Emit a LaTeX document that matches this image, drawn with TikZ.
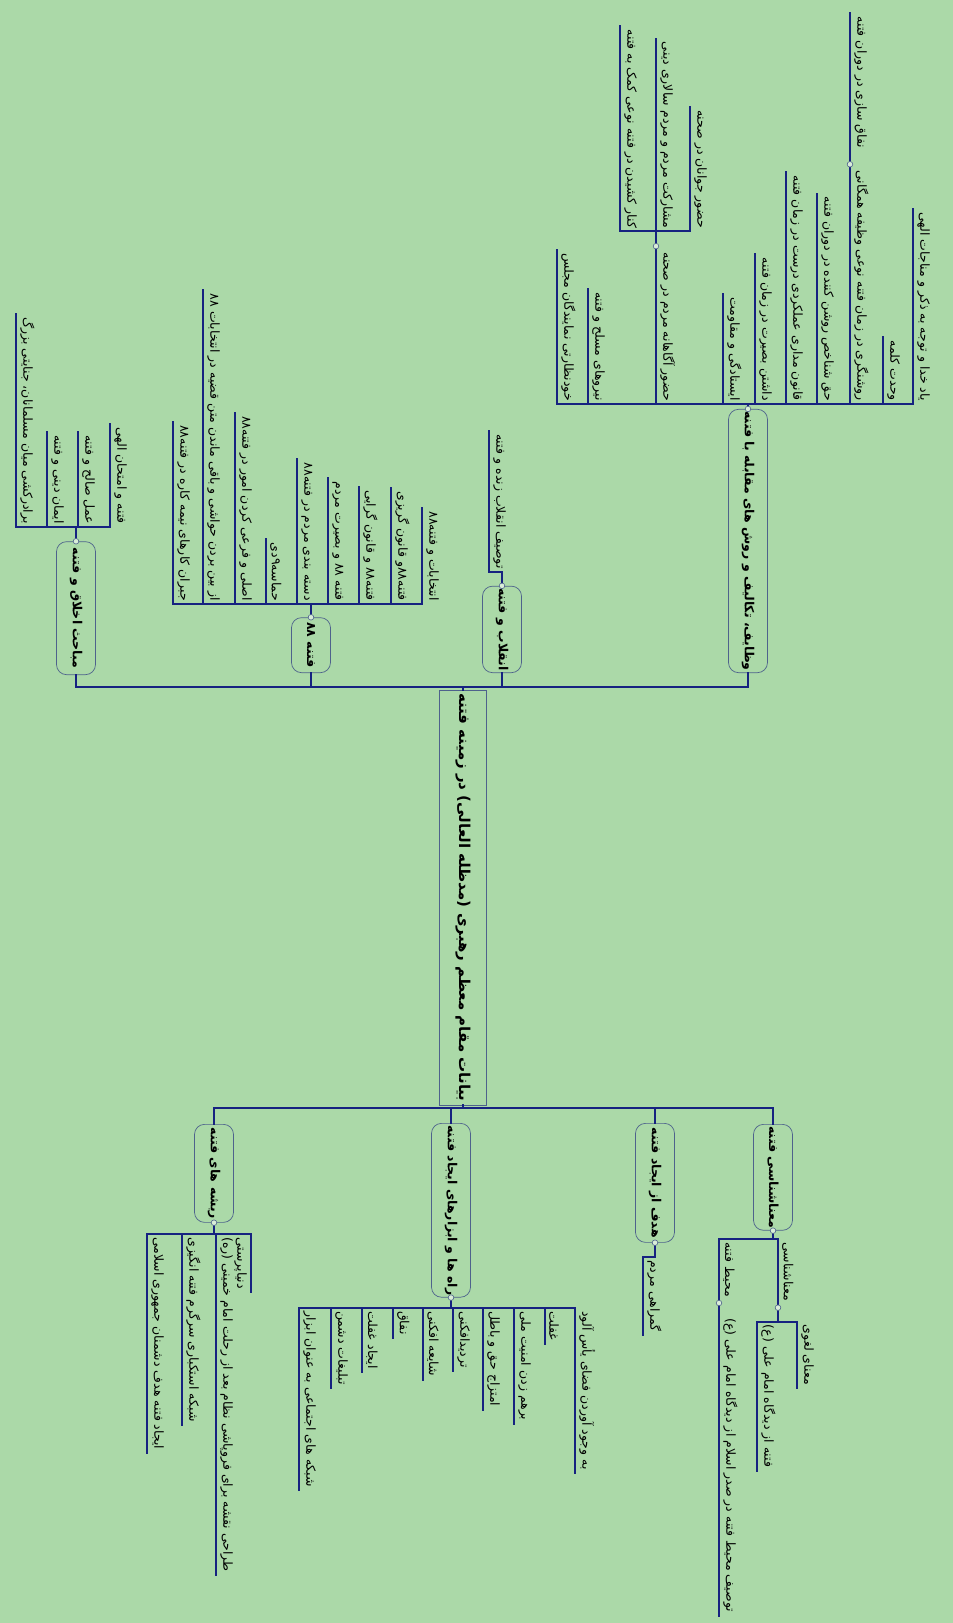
\documentclass[tikz,border=0pt]{standalone}
\usepackage{fontspec}
\usepackage{xcolor}
\usepackage{tikz}
\usetikzlibrary{calc}
\newfontfamily\farsi[Script=Arabic]{DejaVu Sans}
\TeXXeTstate=1
\definecolor{bgreen}{RGB}{171,217,168}
\definecolor{navy}{RGB}{22,34,128}
\definecolor{boxline}{RGB}{78,98,140}

\begin{document}
\begin{tikzpicture}[x=1pt,y=-1pt, conn/.style={draw=navy,line width=2.3pt,line cap=rect}, dot/.style={draw=boxline,fill=white!55!bgreen,line width=0.6pt}, rtl/.style={rotate=-90,execute at begin node=\beginR,execute at end node=\endR}, leaf/.style={rtl,font=\farsi\fontsize{12.5}{15}\selectfont,inner xsep=3pt,inner ysep=4pt}, up/.style={leaf,anchor=south east}, dn/.style={leaf,anchor=south west}, dnl/.style={leaf,anchor=north west}, topic/.style={rtl,draw=boxline,line width=0.7pt,rounded corners=10pt,fill=bgreen,font=\farsi\bfseries\fontsize{12.5}{15}\selectfont,minimum height=39pt,inner sep=2pt}, main/.style={rtl,draw=boxline,line width=0.7pt,font=\farsi\bfseries\fontsize{15}{18}\selectfont,minimum height=47pt,minimum width=391pt}]
\useasboundingbox (0,0) rectangle (953,1623);
\fill[bgreen] (0,0) rectangle (953,1623);
\node[main] (ctr) at (463,897.5) {بیانات مقام معظم رهبری (مدظله العالی) در زمینه فتنه};
\node[topic,anchor=east,minimum width=133pt] (akhlagh) at (76,675) {مباحث اخلاق و فتنه};
\node[topic,anchor=east,minimum width=55pt] (f88) at (311,673) {فتنه ۸۸};
\node[topic,anchor=east,minimum width=86pt] (enghelab) at (502,673) {انقلاب و فتنه};
\node[topic,anchor=east,minimum width=254pt] (vazayef) at (748,673) {وظایف، تکالیف و روش های مقابله با فتنه};
\node[topic,anchor=west,minimum width=100pt] (maana) at (773,1124) {معناشناسی فتنه};
\node[topic,anchor=west,minimum width=119pt] (hadaf) at (655,1123) {هدف از ایجاد فتنه};
\node[topic,anchor=west,minimum width=172pt] (raha) at (451,1123) {راه ها و ابزارهای ایجاد فتنه};
\node[topic,anchor=west,minimum width=98pt] (risheh) at (214,1124) {ریشه های فتنه};
\coordinate (tup) at (463,687);
\coordinate (tdn) at (463,1108);
\draw[conn] (ctr.west) -- (tup);
\draw[conn] (akhlagh.east) |- (tup) -| (vazayef.east);
\foreach \n in {f88,enghelab} \draw[conn] (\n.east) -- (\n.east |- tup);
\draw[conn] (ctr.east) -- (tdn);
\draw[conn] (risheh.west) |- (tdn) -| (maana.west);
\foreach \n in {hadaf,raha} \draw[conn] (\n.west) -- (\n.west |- tdn);
% akhlagh
\foreach \x/\t [count=\i] in {16/{برادرکشی میان مسلمانان، جنایتی بزرگ},47/{ایمان دینی و فتنه},78/{عمل صالح و فتنه},110/{فتنه و امتحان الهی}}
  {\node[up] (a\i) at (\x,527) {\t}; \draw[conn] (a\i.south east) -- (a\i.south west);}
\draw[conn] (a1.south east) -- (a4.south east);
\draw[conn] (akhlagh.west) -- (akhlagh.west |- a1.south east);
% fetneh 88
\foreach \x/\t [count=\i] in {173/{جبران کارهای نیمه کاره در فتنه۸۸},203/{از بین بردن حواشی و باقی ماندن متن قضیه در انتخابات ۸۸},235/{اصلی و فرعی کردن امور در فتنه۸۸},266/{حماسه۹دی},297/{دسته بندی مردم در فتنه۸۸},328/{فتنه ۸۸ و بصیرت مردم},359/{فتنه۸۸ و قانون گرایی},391/{فتنه۸۸و قانون گریزی},422/{انتخابات و فتنه۸۸}}
  {\node[up] (b\i) at (\x,604) {\t}; \draw[conn] (b\i.south east) -- (b\i.south west);}
\draw[conn] (b1.south east) -- (b9.south east);
\draw[conn] (f88.west) -- (f88.west |- b1.south east);
% enghelab
\node[up] (e1) at (489,572) {توصیف انقلاب زنده و فتنه};
\draw[conn] (enghelab.west) |- (e1.south east) -- (e1.south west);
% vazayef
\foreach \x/\t [count=\i] in {557/{خودنظارتی نمایندگان مجلس},588/{نیروهای مسلح و فتنه},656/{حضور آگاهانه مردم در صحنه},723/{ایستادگی و مقاومت},755/{داشتن بصیرت در زمان فتنه},786/{قانون مداری عملکردی درست در زمان فتنه},817/{حق شناخص روشن کننده در دوران فتنه},850/{روشنگری در زمان فتنه نوعی وظیفه همگانی},883/{وحدت کلمه},913/{یاد خدا و توجه به ذکر و مناجات الهی}}
  {\node[up] (v\i) at (\x,404) {\t}; \draw[conn] (v\i.south east) -- (v\i.south west);}
\draw[conn] (v1.south east) -- (v10.south east);
\draw[conn] (vazayef.west) -- (vazayef.west |- v1.south east);
\coordinate (v3c) at ($(v3.south west)+(0,-3)$);
\coordinate (v3b) at ($(v3c)+(0,-15)$);
\node[up] (w1) at ($(v3b)+(-36,0)$) {کنار کشیدن در فتنه نوعی کمک به فتنه};
\node[up] (w2) at (v3b) {مشارکت مردم و مردم سالاری دینی};
\node[up] (w3) at ($(v3b)+(34,0)$) {حضور جوانان در صحنه};
\draw[conn] (v3.south west) -- (v3b);
\draw[conn] (w1.south east) -- (w3.south east);
\foreach \n in {w1,w2,w3} \draw[conn] (\n.south east) -- (\n.south west);
\coordinate (v8c) at ($(v8.south west)+(0,-3)$);
\node[up] (w4) at ($(v8c)+(0,-13)$) {نفاق سازی در دوران فتنه};
\draw[conn] (v8.south west) -- (w4.south west);
% maana
\node[dn] (m1) at (719,1239) {محیط فتنه};
\node[dn] (m2) at (778,1239) {معناشناسی};
\draw[conn] (maana.east) -- (maana.east |- m1.south west);
\draw[conn] (m1.south west) -- (m2.south west);
\coordinate (m2c) at ($(m2.south east)+(0,3)$);
\coordinate (m2b) at ($(m2c)+(0,14)$);
\node[dn] (n1) at ($(m2b)+(19,0)$) {معنای لغوی};
\node[dn] (n2) at ($(m2b)+(-21,0)$) {فتنه از دیدگاه امام علی (ع)};
\draw[conn] (m2.south west) -- (m2b);
\draw[conn] (n2.south west) -- (n1.south west);
\coordinate (m1c) at ($(m1.south east)+(0,3)$);
\node[dn] (n3) at ($(m1c)+(0,12)$) {توصیف محیط فتنه در صدر اسلام از دیدگاه امام علی (ع)};
\draw[conn] (m1.south west) -- (n3.south east);
\foreach \n in {n1,n2} \draw[conn] (\n.south west) -- (\n.south east);
% hadaf
\node[dn] (h1) at (643,1257) {گمراهی مردم};
\draw[conn] (hadaf.east) |- (h1.south west) -- (h1.south east);
% raha
\foreach \x/\t [count=\i] in {299/{شبکه های اجتماعی به عنوان ابزار},331/{تبلیغات دشمن},362/{ایجاد غفلت},393/{نفاق},423/{شایعه افکنی},453/{تردیدافکنی},483/{امتزاج حق و باطل},514/{برهم زدن امنیت ملی},545/{غفلت},575/{به وجود آوردن فضای یأس آلود}}
  {\node[dn] (r\i) at (\x,1308) {\t}; \draw[conn] (r\i.south west) -- (r\i.south east);}
\draw[conn] (r1.south west) -- (r10.south west);
\draw[conn] (raha.east) -- (raha.east |- r1.south west);
% risheh
\foreach \x/\t [count=\i] in {147/{ایجاد فتنه هدف دشمنان جمهوری اسلامی},182/{شبکه استکباری سرگرم فتنه انگیزی},216/{طراحی نقشه برای فروپاشی نظام بعد از رحلت امام خمینی (ره)}}
  {\node[dn] (s\i) at (\x,1234) {\t}; \draw[conn] (s\i.south west) -- (s\i.south east);}
\node[dnl] (s4) at (251,1234) {دنیاپرستی};
\draw[conn] (s4.north west) -- (s4.north east);
\draw[conn] (s1.south west) -- (s4.north west);
\draw[conn] (risheh.east) -- (risheh.east |- s1.south west);
\foreach \p in {akhlagh.west,f88.west,enghelab.west,vazayef.west,v3c,v8c,maana.east,m1c,m2c,hadaf.east,raha.east,risheh.east}
  \filldraw[dot] (\p) circle (2.8pt);
\end{tikzpicture}
\end{document}
